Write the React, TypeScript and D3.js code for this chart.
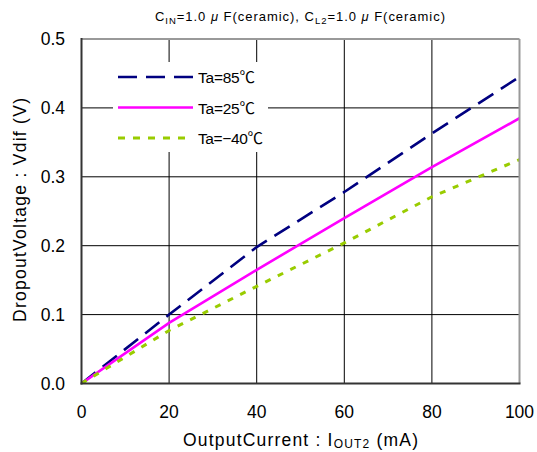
import React from "react";
import * as d3 from "d3";

const currents = [0, 20, 40, 60, 80, 100];
const ta85 = [0, 0.1, 0.198, 0.278, 0.363, 0.445];
const ta25 = [0, 0.088, 0.165, 0.24, 0.314, 0.385];
const taM40 = [0, 0.077, 0.141, 0.204, 0.271, 0.325];
const xTicks = [0, 20, 40, 60, 80, 100];
const yTicks = [0, 0.1, 0.2, 0.3, 0.4, 0.5];
const seriesNames = ["Ta=85℃", "Ta=25℃", "Ta=−40℃"];

const W = 537;
const H = 452;
const FONT = "'Liberation Sans', Arial, 'Noto Sans CJK JP', sans-serif";

export default function App() {
  const x = d3.scaleLinear().domain([0, 100]).range([81.5, 519.5]);
  const y = d3.scaleLinear().domain([0, 0.5]).range([383.5, 39]);
  const line = d3
    .line<number>()
    .x((_, i) => x(currents[i]))
    .y((d) => y(d));

  const series = [
    { name: seriesNames[0], data: ta85, color: "#000080", dash: "18,9", w: 2.6, tl: 57 },
    { name: seriesNames[1], data: ta25, color: "#FF00FF", dash: "none", w: 2.6, tl: 57 },
    { name: seriesNames[2], data: taM40, color: "#99CC00", dash: "6,8", w: 3, tl: 65 },
  ];

  const [x0, x1] = x.range();
  const [y0, y1] = y.range();

  return (
    <svg
      width={W}
      height={H}
      style={{ position: "absolute", left: 0, top: 0, background: "#fff" }}
      fontFamily={FONT}
    >
      <rect x={0} y={0} width={W} height={H} fill="#fff" />
      <defs>
        <clipPath id="plotclip">
          <rect x={x0} y={y1} width={x1 - x0} height={y0 - y1} />
        </clipPath>
      </defs>
      {/* title */}
      <text x={155} y={21} fontSize={13} fill="#000" textLength={290} lengthAdjust="spacing">
        <tspan>C</tspan>
        <tspan fontSize={9.5} dy={3}>IN</tspan>
        <tspan dy={-3}>=1.0 </tspan>
        <tspan fontStyle="italic">μ</tspan>
        <tspan> F(ceramic), C</tspan>
        <tspan fontSize={9.5} dy={3}>L2</tspan>
        <tspan dy={-3}>=1.0 </tspan>
        <tspan fontStyle="italic">μ</tspan>
        <tspan> F(ceramic)</tspan>
      </text>
      {/* grid */}
      {xTicks.slice(1, -1).map((t) => (
        <line key={"gx" + t} x1={x(t)} x2={x(t)} y1={y0} y2={y1} stroke="#000" strokeWidth={1} />
      ))}
      {yTicks.slice(1, -1).map((t) => (
        <line key={"gy" + t} x1={x0} x2={x1} y1={y(t)} y2={y(t)} stroke="#000" strokeWidth={1} />
      ))}
      {/* legend background */}
      <rect x={113} y={62} width={155} height={90} fill="#fff" />
      {/* series */}
      <g clipPath="url(#plotclip)">
        {series.map((s) => (
          <path
            key={s.name}
            d={line(s.data) || ""}
            fill="none"
            stroke={s.color}
            strokeWidth={s.w}
            strokeDasharray={s.dash}
          />
        ))}
      </g>
      {/* border */}
      <line x1={x0} x2={x1} y1={y1} y2={y1} stroke="#999" strokeWidth={2} />
      <line x1={x1} x2={x1} y1={y1} y2={y0} stroke="#999" strokeWidth={2} />
      <line x1={x0} x2={x0} y1={y1 - 1} y2={y0 + 1} stroke="#333" strokeWidth={2} />
      <line x1={x0 - 1} x2={x1 + 1} y1={y0} y2={y0} stroke="#333" strokeWidth={2} />
      {/* legend */}
      {series.map((s, i) => {
        const ly = 77 + i * 30.5;
        return (
          <g key={"lg" + i}>
            <line
              x1={118}
              x2={193}
              y1={ly}
              y2={ly}
              stroke={s.color}
              strokeWidth={s.w}
              strokeDasharray={i === 0 ? "19,9" : i === 2 ? "7,8" : "none"}
            />
            <text x={198} y={ly + 6} fontSize={15.5} fill="#000" textLength={s.tl} lengthAdjust="spacing">
              {s.name}
            </text>
          </g>
        );
      })}
      {/* y ticks */}
      {yTicks.map((t) => (
        <text key={"yt" + t} x={65} y={y(t) + 6} textAnchor="end" fontSize={17.5} fill="#000">
          {t.toFixed(1)}
        </text>
      ))}
      {/* x ticks */}
      {xTicks.map((t) => (
        <text key={"xt" + t} x={x(t)} y={418} textAnchor="middle" fontSize={17.5} fill="#000">
          {t}
        </text>
      ))}
      {/* x axis title */}
      <text x={183} y={446} fontSize={17.5} fill="#000" textLength={235} lengthAdjust="spacing">
        <tspan>OutputCurrent : I</tspan>
        <tspan fontSize={12} dy={2}>OUT2</tspan>
        <tspan dy={-2}> (mA)</tspan>
      </text>
      {/* y axis title */}
      <text
        transform={`translate(26,322) rotate(-90)`}
        fontSize={17.5}
        fill="#000"
        textLength={224}
        lengthAdjust="spacing"
      >
        DropoutVoltage : Vdif (V)
      </text>
    </svg>
  );
}
